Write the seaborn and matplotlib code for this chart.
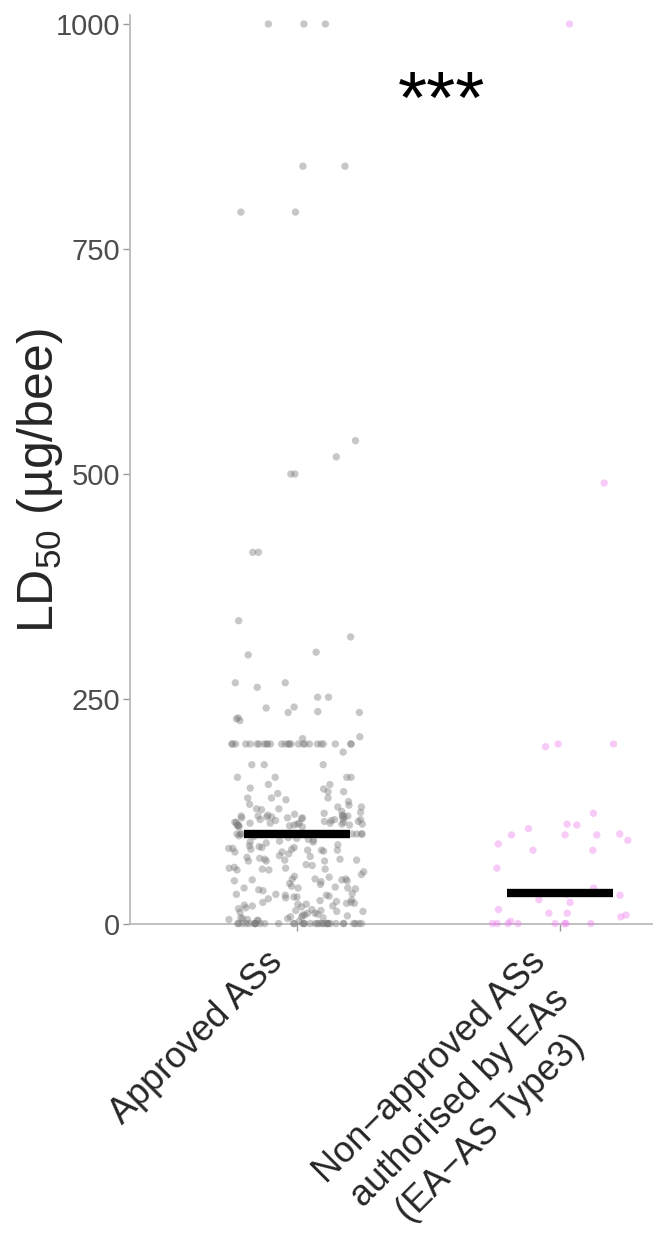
import numpy as np
import pandas as pd
import seaborn as sns
import matplotlib.pyplot as plt
from matplotlib import transforms

# categories
groups = ["Approved ASs", "Non\u2212approved ASs\nauthorised by EAs\n(EA\u2212AS Type3)"]

# approved ASs: values that are stacked on one level (value, count)
approved_rows = [1000, 200, 100, 0.5]
approved_row_counts = [3, 26, 40, 35]

# approved ASs: remaining single points (ug/bee)
approved_points = [
    842, 842, 791, 791, 537, 519, 500, 500, 413, 413, 337, 319, 302, 299,
    268, 268, 263, 252, 252, 241, 240, 236, 235, 235, 229, 228, 226, 208, 206,
    191, 177, 177, 177, 163, 163, 163, 163, 155, 155, 151, 150, 147, 147, 145,
    140, 140, 140, 138, 136, 133, 132, 130, 130, 128, 128, 127, 125, 124, 123,
    122, 121, 121, 120, 120, 120, 120, 119, 119, 119, 118, 118, 118, 117, 117,
    116, 116, 116, 115, 115,
    114, 114, 113, 113, 113, 112, 112, 112, 112, 111, 111, 111, 110, 110, 110,
    110, 109, 109, 108, 108,
    98, 97, 96, 95, 94, 93, 92, 91, 91, 90,
    88, 87, 86, 85, 85, 84, 84, 83, 83, 82, 82, 82, 81, 80, 80,
    78, 76, 75, 74, 73, 72, 72, 71, 71, 70, 70, 70,
    66, 65, 63, 62, 62, 61, 61, 60, 60, 58,
    55, 53, 52, 50, 50, 50, 49, 49, 48, 48, 47, 45,
    44, 42, 41, 40, 40, 40, 39, 38, 37,
    34, 33, 33, 32, 32, 31, 30, 30, 29, 28,
    27, 26, 25, 24, 24, 23, 23, 22, 22, 21, 20, 20, 19, 18,
    17, 16, 15, 15, 14, 14, 13, 12, 12, 11, 10, 10,
    9, 8, 8, 7, 7, 6, 6, 5, 5, 4, 4, 3,
]

# non-approved ASs authorised by emergency authorisations
ea_points = [
    1000, 490, 200, 200, 197, 123, 111, 110, 106, 100, 99, 99, 99, 93, 89,
    82, 82, 62, 40, 35, 34, 33, 32, 27, 24, 16, 12, 12, 10, 8, 3,
    0.5, 0.5, 0.5, 0.5, 0.5, 0.5, 0.5, 0.5,
]

# medians drawn as black bars
medians = [100, 34]

palette = ["#7a7a7a", "#ee82ee"]
yticks = [0, 250, 500, 750, 1000]

approved_all = list(np.repeat(approved_rows, approved_row_counts)) + approved_points
df = pd.DataFrame({
    "group": [groups[0]] * len(approved_all) + [groups[1]] * len(ea_points),
    "ld50": approved_all + ea_points,
})

sns.set_style("white")
plt.rcParams["font.family"] = ["Liberation Sans", "DejaVu Sans"]

fig = plt.figure(figsize=(6.53, 12.36), dpi=100)
ax = fig.add_axes([130 / 653, 312 / 1236, 1 - 130 / 653, 909 / 1236])

np.random.seed(3)
sns.stripplot(data=df, x="group", y="ld50", hue="group", palette=palette,
              order=groups, jitter=0.26, size=5.3, alpha=0.42, linewidth=0,
              legend=False, ax=ax)
for coll in ax.collections:
    coll.set_clip_on(False)

xpos = np.arange(len(groups))
ax.hlines(medians, xpos - 0.2, xpos + 0.2, colors="black", linewidth=6, zorder=5)

ax.text(0.55, 912, "***", fontsize=54, ha="center", va="center", color="black")

ax.set_xlim(-0.635, 1.354)
ax.set_ylim(0, 1010)
ax.set_yticks(yticks)
ax.set_xlabel("")
ax.set_ylabel(r"$\mathregular{LD_{50}}$ (µg/bee)", fontsize=36)
ax.yaxis.set_label_coords(-0.125, 0.488)

ax.tick_params(axis="y", labelsize=21, labelcolor="#4d4d4d", color="#9a9a9a",
               length=5, width=1, left=True, pad=2)
ax.tick_params(axis="x", labelsize=26, color="#9a9a9a", length=5, width=1,
               bottom=True, pad=4)
shift = transforms.ScaledTranslation(-32 / 100, -8 / 100, fig.dpi_scale_trans)
for lab in ax.get_xticklabels():
    lab.set_rotation(45)
    lab.set_ha("right")
    lab.set_rotation_mode("anchor")
    lab.set_multialignment("center")
    lab.set_linespacing(1.3)
    lab.set_transform(lab.get_transform() + shift)

sns.despine(ax=ax)
for side in ["left", "bottom"]:
    ax.spines[side].set_color("#b5b5b5")
    ax.spines[side].set_linewidth(1.2)

fig.savefig("out.png", dpi=100)
